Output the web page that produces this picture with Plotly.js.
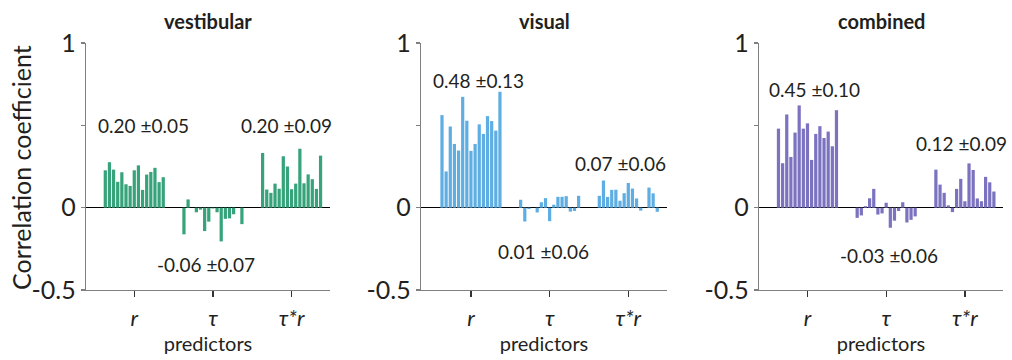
<!DOCTYPE html>
<html><head><meta charset="utf-8">
<script src="https://cdn.plot.ly/plotly-3.0.1.min.js"></script>
<style>body{margin:0;background:#fff}#chart{width:1012px;height:360px}</style>
</head><body><div id="chart"></div>
<script>
// ---- data ----
const panelTitles = ['vestibular', 'visual', 'combined'];
const predictorLabels = ['r', 'τ', 'τ*r'];

const vestibular_r    = [0.227, 0.276, 0.231, 0.157, 0.215, 0.142, 0.132, 0.227, 0.257, 0.108, 0.201, 0.217, 0.242, 0.155, 0.185];
const vestibular_tau  = [-0.162, 0.050, 0.000, -0.028, -0.012, -0.142, -0.085, -0.005, -0.028, -0.205, -0.068, -0.065, -0.040, 0.000, -0.100];
const vestibular_taur = [0.332, 0.110, 0.090, 0.146, 0.115, 0.312, 0.250, 0.112, 0.146, 0.358, 0.148, 0.202, 0.173, 0.114, 0.316];

const visual_r    = [0.562, 0.220, 0.493, 0.387, 0.347, 0.673, 0.528, 0.345, 0.387, 0.506, 0.448, 0.556, 0.526, 0.468, 0.704];
const visual_tau  = [0.048, -0.084, -0.008, 0.000, -0.029, 0.033, 0.058, -0.082, 0.018, 0.066, 0.066, 0.070, -0.024, -0.020, 0.072];
const visual_taur = [0.072, 0.165, 0.065, 0.108, 0.109, 0.042, 0.088, 0.150, 0.116, 0.056, -0.018, 0.000, 0.122, 0.087, -0.025];

const combined_r    = [0.480, 0.270, 0.566, 0.308, 0.456, 0.621, 0.480, 0.512, 0.290, 0.448, 0.495, 0.423, 0.462, 0.373, 0.592];
const combined_tau  = [-0.062, -0.047, 0.009, 0.057, 0.114, -0.042, -0.035, 0.030, -0.122, -0.079, -0.020, 0.033, -0.090, -0.074, -0.053];
const combined_taur = [0.231, 0.140, 0.090, 0.014, -0.027, 0.114, 0.175, 0.039, 0.269, 0.229, 0.056, 0.039, 0.187, 0.154, 0.098];

const means = [[0.20, -0.06, 0.20], [0.48, 0.01, 0.07], [0.45, -0.03, 0.12]];
const sds   = [[0.05, 0.07, 0.09], [0.13, 0.06, 0.06], [0.10, 0.06, 0.09]];

const yTickVals  = [-0.5, 0, 0.5, 1];
const yTickTexts = ['-0.5', '0', '', '1'];

// ---- styling / layout ----
const colors = ['#36a37b', '#5eaee3', '#7b73c0'];
const series = [
  [vestibular_r, vestibular_tau, vestibular_taur],
  [visual_r, visual_tau, visual_taur],
  [combined_r, combined_tau, combined_taur]
];
const FONT = 'Lato, "Open Sans", sans-serif';
const TXT = '#231f20';
const AX = '#808080';
const W = 1012, H = 360;
const domainsPx = [[86, 330], [421, 667], [759, 1003]];
const ranges = [[-4.66, 54.28], [-5.07, 54.35], [-4.7, 54.2]];
const groupStep = 19;
const nBars = 15;
const tickPos = [0, 1, 2].map(g => g * groupStep + (nBars - 1) / 2);
// annotation positions (data units) for mean±sd labels: [x, y]
const labelPos = [
  [[9.2, 0.50], [24.3, -0.345], [43.8, 0.50]],
  [[8.9, 0.77], [24.6, -0.267], [43.0, 0.267]],
  [[8.65, 0.715], [26.6, -0.29], [44.3, 0.39]]
];

const traces = [];
const layout = {
  width: W, height: H,
  margin: {l: 0, r: 0, t: 0, b: 0},
  paper_bgcolor: '#fff', plot_bgcolor: '#fff',
  showlegend: false,
  font: {family: FONT, color: TXT},
  annotations: []
};

series.forEach((groups, p) => {
  const xa = p === 0 ? 'x' : 'x' + (p + 1);
  const ya = p === 0 ? 'y' : 'y' + (p + 1);
  groups.forEach((vals, g) => {
    traces.push({
      type: 'bar',
      x: vals.map((v, i) => g * groupStep + i),
      y: vals,
      width: 0.78,
      marker: {color: colors[p], line: {width: 0}},
      xaxis: xa, yaxis: ya,
      hoverinfo: 'y'
    });
    layout.annotations.push({
      xref: xa, yref: ya,
      x: labelPos[p][g][0], y: labelPos[p][g][1],
      text: means[p][g].toFixed(2) + ' ±' + sds[p][g].toFixed(2),
      showarrow: false, font: {size: 19, family: FONT, color: TXT},
      xanchor: 'center', yanchor: 'middle'
    });
  });
  const dom = [domainsPx[p][0] / W, domainsPx[p][1] / W];
  layout[p === 0 ? 'xaxis' : 'xaxis' + (p + 1)] = {
    domain: dom, range: ranges[p], anchor: ya,
    showgrid: false, zeroline: false,
    showline: true, linecolor: AX, linewidth: 1.3,
    ticks: 'outside', ticklen: 6, tickwidth: 1.3, tickcolor: '#333',
    tickvals: tickPos, ticktext: predictorLabels.map(s => '<i>' + s + '</i>'),
    tickfont: {size: 22, family: FONT, color: TXT},
    ticklabelstandoff: 2,
    title: {text: 'predictors', font: {size: 20, family: FONT, color: TXT}, standoff: 7},
    fixedrange: true
  };
  layout[p === 0 ? 'yaxis' : 'yaxis' + (p + 1)] = {
    domain: [(H - 290) / H, (H - 43) / H], range: [-0.5, 1], anchor: xa,
    showgrid: false,
    zeroline: true, zerolinecolor: '#000', zerolinewidth: 1.3,
    showline: true, linecolor: AX, linewidth: 1.3,
    ticks: 'outside', ticklen: 4, tickwidth: 1.3, tickcolor: AX,
    tickvals: yTickVals, ticktext: yTickTexts,
    tickfont: {size: 25, family: FONT, color: TXT},
    ticklabelstandoff: 0,
    fixedrange: true
  };
  layout.annotations.push({
    xref: 'paper', yref: 'paper',
    x: (dom[0] + dom[1]) / 2, y: (H - 21) / H,
    text: '<b>' + panelTitles[p] + '</b>', showarrow: false,
    font: {size: 20, family: FONT, color: TXT},
    xanchor: 'center', yanchor: 'middle'
  });
});

layout.annotations.push({
  xref: 'paper', yref: 'paper',
  x: 21 / W, y: (H - 168) / H,
  text: 'Correlation coefficient', textangle: -90, showarrow: false,
  font: {size: 25, family: FONT, color: TXT},
  xanchor: 'center', yanchor: 'middle'
});

Plotly.newPlot('chart', traces, layout, {displayModeBar: false, staticPlot: true});
</script>
</body></html>
